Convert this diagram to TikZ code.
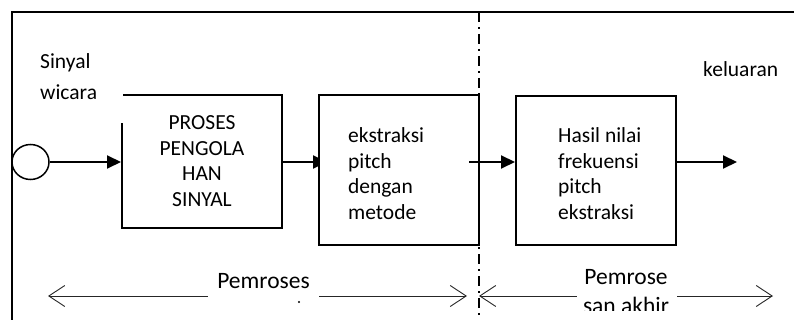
\documentclass[tikz,border=0pt]{standalone}
\usepackage{fontspec}
\setmainfont{Carlito}
\usetikzlibrary{arrows.meta,shapes.geometric,backgrounds}
\begin{document}
\begin{tikzpicture}[x=1pt,y=-1pt,
  box/.style={draw,line width=2pt,fill=white,inner sep=0pt},
  txt/.style={font=\fontsize{21.5}{25.5}\selectfont,inner sep=0pt},
  bigtxt/.style={font=\fontsize{23.5}{29}\selectfont,inner sep=0pt},
  flow/.style={line width=2pt,-{Triangle[length=14pt,width=13pt]}},
  spanline/.style={line width=0.9pt,black!85,{Straight Barb[length=16pt,width=21pt,line width=0.9pt]}-{Straight Barb[length=16pt,width=21pt,line width=0.9pt]}},
  divider/.style={line width=2pt,dash pattern=on 10pt off 5pt on 2pt off 5pt}
]
\useasboundingbox (0,0) rectangle (794,320);
% frame
\draw[line width=2pt] (12,330) -- (12,12) -- (800,12);
% divider
\draw[divider] (479,12) -- (479,330);
% boxes
\node[box,minimum width=160pt,minimum height=133pt] (b1) at (202,161.5) {};
\node[box,minimum width=160pt,minimum height=150pt] (b2) at (399,170) {};
\node[box,minimum width=160pt,minimum height=149pt] (b3) at (596,170.5) {};
\node[draw,ellipse,line width=1.5pt,minimum width=37pt,minimum height=35pt,inner sep=0pt] (c) at (30.5,162) {};
% label sinyal wicara (white background covers part of box 1)
\fill[white] (30,40) rectangle (122.5,123);
\node[txt,anchor=base west,align=left,font=\fontsize{21.5}{31}\selectfont] (sw) at (40,100) {Sinyal\\wicara};
% box texts (base anchor = last line)
\node[txt,anchor=base,align=center] (t1) at (b1.center |- 0,206.5) {PROSES\\PENGOLA\\HAN\\SINYAL};
\node[txt,anchor=base west,align=left] (t2) at (348,219) {ekstraksi\\pitch\\dengan\\metode};
\node[txt,anchor=base west,align=left] (t3) at (558,219.5) {Hasil nilai\\frekuensi\\pitch\\ekstraksi};
\node[txt,anchor=base west] (kel) at (703,77) {keluaran};
% flow arrows
\coordinate (out) at (737,162);
\begin{scope}[on background layer]
\draw[flow] (b1.east |- c.east) -- ([xshift=9pt]b2.west |- c.east);
\end{scope}
\draw[flow] (c.east) -- (b1.west |- c.east);
\draw[flow] ([xshift=-11pt]b2.east |- c.east) -- (b3.west |- c.east);
\draw[flow] (b3.east |- c.east) -- (out);
% span arrows
\coordinate (l1) at (48,296);
\coordinate (l2) at (467,296);
\coordinate (r1) at (479,296);
\coordinate (r2) at (773,296);
\draw[spanline] (l1) -- (l2);
\draw[spanline] (r1) -- (r2);
\fill[white] (208,266) rectangle (319,312);
\fill[white] (577,262) rectangle (677,312);
\node[bigtxt,anchor=base] (p1) at (263.5,288.5) {Pemroses};
\fill (299,302) circle (1.1pt);
\begin{scope}
\clip (570,262) rectangle (690,310);
\node[bigtxt,anchor=base,align=center] (p2) at (626,313) {Pemrose\\san akhir};
\end{scope}
\end{tikzpicture}
\end{document}
